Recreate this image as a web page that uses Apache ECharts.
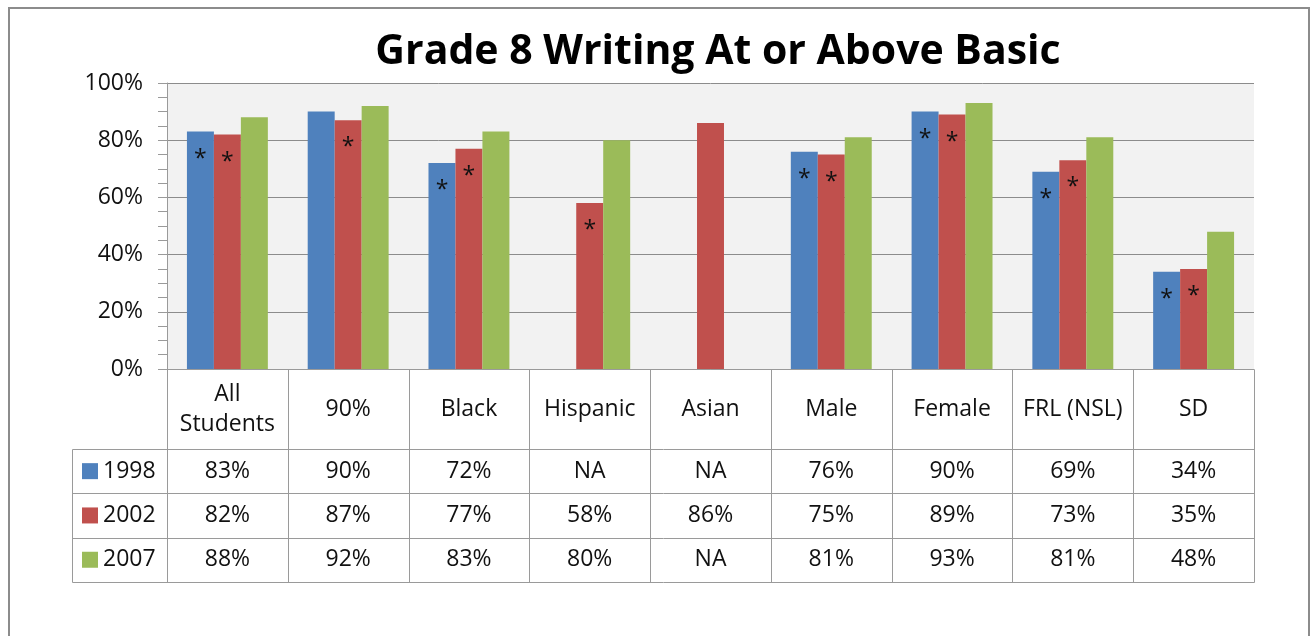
<!DOCTYPE html>
<html>
<head>
<meta charset="utf-8">
<title>Grade 8 Writing At or Above Basic</title>
<script src="https://cdn.jsdelivr.net/npm/echarts@6/dist/echarts.min.js"></script>
<style>
  html, body { margin: 0; padding: 0; background: #fff; }
  #main { width: 1312px; height: 636px; }
</style>
</head>
<body>
<div id="main"></div>
<script>
var categories = ['All\nStudents', '90%', 'Black', 'Hispanic', 'Asian', 'Male', 'Female', 'FRL (NSL)', 'SD'];
var years = ['1998', '2002', '2007'];
var v1998 = [83, 90, 72, null, null, 76, 90, 69, 34];
var v2002 = [82, 87, 77, 58, 86, 75, 89, 73, 35];
var v2007 = [88, 92, 83, 80, null, 81, 93, 81, 48];
// which bars carry an asterisk
var star1998 = [1, 0, 1, 0, 0, 1, 1, 1, 1];
var star2002 = [1, 1, 1, 1, 0, 1, 1, 1, 1];
var star2007 = [0, 0, 0, 0, 0, 0, 0, 0, 0];
var yTicks = [0, 20, 40, 60, 80, 100];

var colors = ['#4f81bd', '#c0504d', '#9bbb59'];
var font = '"Open Sans", Lato, sans-serif';
var lineCol = '#9a9a9a';
var txtSize = 23;

var chart = echarts.init(document.getElementById('main'));

function barData(vals, stars) {
    return vals.map(function (v, i) {
        return { value: v, label: { show: stars[i] === 1 && v != null } };
    });
}

function makeSeries(name, vals, stars, idx) {
    return {
        name: name,
        type: 'bar',
        data: barData(vals, stars),
        barGap: 0,
        barCategoryGap: '33%',
        itemStyle: { color: colors[idx] },
        label: {
            position: 'insideTop',
            distance: 16,
            formatter: '*',
            color: '#111',
            fontSize: 23,
            fontFamily: font
        },
        emphasis: { disabled: true }
    };
}

var option = {
    animation: false,
    color: colors,
    title: {
        text: 'Grade 8 Writing At or Above Basic',
        left: 713,
        top: 27,
        textAlign: 'center',
        textStyle: { fontSize: 41, fontWeight: 'bold', color: '#000', fontFamily: font }
    },
    grid: {
        left: 167, right: 58, top: 83, bottom: 267,
        show: true, backgroundColor: '#f2f2f2', borderWidth: 0
    },
    xAxis: {
        type: 'category',
        data: categories,
        axisLine: { show: true, lineStyle: { color: lineCol, width: 1 } },
        axisTick: { show: false },
        axisLabel: {
            interval: 0,
            margin: 40,
            verticalAlign: 'middle',
            fontSize: txtSize,
            lineHeight: 30,
            color: '#111',
            fontFamily: font
        }
    },
    yAxis: {
        type: 'value',
        min: yTicks[0],
        max: yTicks[yTicks.length - 1],
        interval: yTicks[1] - yTicks[0],
        axisLine: { show: true, lineStyle: { color: lineCol } },
        axisTick: { show: true, length: 9, lineStyle: { color: lineCol } },
        minorTick: { show: true, splitNumber: 4, length: 9, lineStyle: { color: lineCol } },
        splitLine: { show: true, lineStyle: { color: '#8c8c8c', width: 1 } },
        axisLabel: {
            formatter: '{value}%',
            margin: 24,
            fontSize: txtSize,
            color: '#111',
            fontFamily: font
        }
    },
    series: [
        makeSeries(years[0], v1998, star1998, 0),
        makeSeries(years[1], v2002, star2002, 1),
        makeSeries(years[2], v2007, star2007, 2)
    ]
};

chart.setOption(option);

// data table below the axis, placed from the axis scale
function buildTable() {
    var n = categories.length;
    var x0 = chart.convertToPixel({ xAxisIndex: 0 }, 0);
    var x1 = chart.convertToPixel({ xAxisIndex: 0 }, 1);
    var bw = x1 - x0;
    var left = x0 - bw / 2;
    var right = left + bw * n;
    var axisY = chart.convertToPixel({ yAxisIndex: 0 }, 0);
    var headH = 80;
    var rowH = 44.3;
    var legLeft = 72;
    var rowsTop = axisY + headH;
    var rows = [v1998, v2002, v2007];
    var els = [];
    function line(xa, ya, xb, yb) {
        els.push({
            type: 'line', silent: true,
            shape: { x1: Math.round(xa) + 0.5, y1: Math.round(ya) + 0.5, x2: Math.round(xb) + 0.5, y2: Math.round(yb) + 0.5 },
            style: { stroke: lineCol, lineWidth: 1 }
        });
    }
    // vertical lines
    for (var i = 0; i <= n; i++) {
        line(left + bw * i, axisY, left + bw * i, rowsTop + rowH * 3);
    }
    line(legLeft, rowsTop, legLeft, rowsTop + rowH * 3);
    // horizontal lines
    for (var r = 0; r <= 3; r++) {
        line(legLeft, rowsTop + rowH * r, right, rowsTop + rowH * r);
    }
    // legend keys and values
    for (r = 0; r < 3; r++) {
        var cy = rowsTop + rowH * r + rowH / 2;
        els.push({
            type: 'rect', silent: true,
            shape: { x: legLeft + 10, y: cy - 8, width: 16, height: 16 },
            style: { fill: colors[r] }
        });
        els.push({
            type: 'text', silent: true,
            style: {
                x: legLeft + 31, y: cy, text: years[r], fill: '#111',
                font: txtSize + 'px ' + font, textVerticalAlign: 'middle', textAlign: 'left'
            }
        });
        for (i = 0; i < n; i++) {
            var v = rows[r][i];
            els.push({
                type: 'text', silent: true,
                style: {
                    x: left + bw * i + bw / 2, y: cy,
                    text: v == null ? 'NA' : v + '%', fill: '#111',
                    font: txtSize + 'px ' + font, textVerticalAlign: 'middle', textAlign: 'center'
                }
            });
        }
    }
    // outer frame
    els.push({
        type: 'rect', silent: true,
        shape: { x: 9, y: 8, width: 1300, height: 700 },
        style: { fill: 'none', stroke: '#8c8c8c', lineWidth: 2 }
    });
    chart.setOption({ graphic: els });
}

buildTable();
</script>
</body>
</html>
